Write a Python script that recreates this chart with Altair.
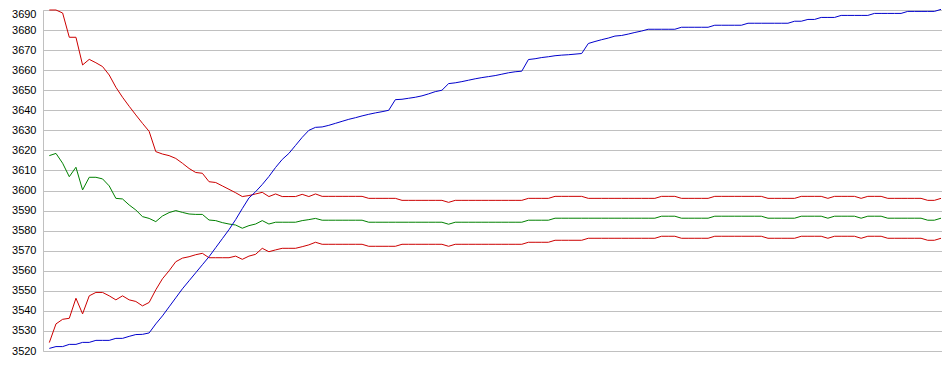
import altair as alt
import pandas as pd

def rep(v, n):
    return [v] * n

blue = [3521.3, 3522.2, 3522.2, 3523.3, 3523.3, 3524.3, 3524.3, 3525.3, 3525.3, 3525.3,
        3526.3, 3526.3, 3527.3, 3528.2, 3528.3, 3529.0, 3533.5, 3537.5, 3542.0, 3546.5,
        3551.0, 3555.0, 3559.0, 3563.0, 3567.0, 3571.5, 3576.0, 3580.5, 3585.5, 3591.0,
        3596.3, 3599.4, 3603.0, 3607.0, 3611.5, 3615.5, 3618.5, 3622.5, 3626.5, 3630.0,
        3631.5, 3631.7, 3632.5, 3633.5, 3634.5, 3635.5, 3636.3, 3637.2, 3638.0, 3638.7,
        3639.3, 3640.0, 3645.3, 3645.5, 3646.0, 3646.5, 3647.2, 3648.2, 3649.3, 3650.0,
        3653.3, 3653.7, 3654.3, 3655.0, 3655.7, 3656.3, 3656.8, 3657.3, 3658.0, 3658.7,
        3659.2, 3659.5, 3665.3, 3665.7, 3666.3, 3666.7, 3667.2, 3667.5, 3667.7, 3668.0,
        3668.3, 3673.3, 3674.3, 3675.2, 3676.0, 3677.0, 3677.3, 3678.0, 3678.8, 3679.5] \
    + rep(3680.4, 5) + rep(3681.4, 5) + rep(3682.4, 5) + rep(3683.4, 7) + rep(3684.4, 2) \
    + rep(3685.3, 2) + rep(3686.3, 3) + rep(3687.3, 5) + rep(3688.3, 5) + rep(3689.3, 5) + [3690.3]

upper = [3690.0, 3690.0, 3688.5, 3676.4, 3676.4, 3662.6, 3665.4, 3663.7, 3661.8, 3657.6,
         3651.5, 3646.5, 3642.0, 3637.7, 3633.5, 3629.5, 3619.4, 3618.2, 3617.4, 3616.0,
         3613.6, 3611.0, 3609.0, 3608.6, 3604.4, 3604.0, 3602.3, 3600.6, 3598.9, 3597.0,
         3597.5, 3598.3, 3599.1, 3597.0, 3598.3, 3597.0, 3597.0, 3597.0, 3598.1, 3597.0,
         3598.3] \
    + rep(3597.1, 7) + rep(3596.1, 5) + rep(3595.1, 7) + [3594.1] + rep(3595.1, 11) \
    + rep(3596.1, 4) + rep(3597.1, 5) + rep(3596.1, 11) + rep(3597.1, 3) + rep(3596.1, 5) \
    + rep(3597.1, 8) + rep(3596.1, 5) + rep(3597.1, 4) + [3596.1] + rep(3597.1, 4) \
    + [3596.1] + rep(3597.1, 3) + rep(3596.1, 6) + rep(3595.1, 2) + [3596.1]

middle = [3617.4, 3618.5, 3613.6, 3606.9, 3611.6, 3600.3, 3606.6, 3606.6, 3605.8, 3602.3,
          3596.1, 3595.8, 3592.8, 3590.3, 3587.0, 3586.1, 3584.5, 3587.3, 3589.0, 3590.0,
          3589.1, 3588.3, 3588.1, 3588.1, 3585.3, 3585.0, 3584.0, 3583.3, 3582.8, 3581.2,
          3582.5, 3583.3, 3585.0, 3583.3, 3584.2, 3584.2, 3584.2, 3584.2, 3585.0, 3585.5,
          3586.1] \
    + rep(3585.2, 7) + rep(3584.2, 12) + [3583.2] + rep(3584.2, 11) + rep(3585.2, 4) \
    + rep(3586.2, 16) + rep(3587.2, 3) + rep(3586.2, 5) + rep(3587.2, 8) + rep(3586.2, 5) \
    + rep(3587.2, 4) + [3586.2] + rep(3587.2, 4) + [3586.2] + rep(3587.2, 3) \
    + rep(3586.2, 6) + rep(3585.2, 2) + [3586.2]

lower = [3524.2, 3533.5, 3535.8, 3536.3, 3546.3, 3538.5, 3547.5, 3549.2, 3549.2, 3547.5,
         3545.5, 3547.5, 3545.5, 3544.7, 3542.5, 3544.2, 3550.5, 3556.0, 3560.0, 3564.5,
         3566.3, 3567.0, 3568.0, 3568.7, 3566.5, 3566.5, 3566.5, 3566.5, 3567.3, 3565.7,
         3567.3, 3568.2, 3571.2, 3569.5, 3570.4, 3571.2, 3571.2, 3571.2, 3572.0, 3572.9,
         3574.2] \
    + rep(3573.2, 7) + rep(3572.2, 5) + rep(3573.2, 7) + [3572.2] + rep(3573.2, 11) \
    + rep(3574.2, 4) + rep(3575.2, 5) + rep(3576.2, 11) + rep(3577.2, 3) + rep(3576.2, 5) \
    + rep(3577.2, 8) + rep(3576.2, 5) + rep(3577.2, 4) + [3576.2] + rep(3577.2, 4) \
    + [3576.2] + rep(3577.2, 3) + rep(3576.2, 6) + rep(3575.2, 2) + [3576.2]

series_names = ["upper", "middle", "lower", "blue"]
series_colors = ["#cc0000", "#008000", "#cc0000", "#0000cc"]
y_ticks = list(range(3520, 3691, 10))

rows = []
for name, vals in zip(series_names, [upper, middle, lower, blue]):
    for i, v in enumerate(vals):
        rows.append({"idx": i, "value": v, "series": name})
df = pd.DataFrame(rows)

chart = alt.Chart(df).mark_line(strokeWidth=1, interpolate="linear").encode(
    x=alt.X("idx:Q", scale=alt.Scale(domain=[-0.95, 134.15], nice=False, zero=False), axis=None),
    y=alt.Y("value:Q",
            scale=alt.Scale(domain=[3520, 3690], nice=False, zero=False),
            axis=alt.Axis(values=y_ticks, title=None, grid=True, gridColor="#c0c0c0",
                          gridOpacity=1, gridWidth=1, domain=True, domainColor="#c0c0c0",
                          domainWidth=1, ticks=False, tickSize=0, labelPadding=7,
                          labelFont="Liberation Sans", labelFontSize=11,
                          labelColor="#000000", format="d",
                          labelOffset={"condition": {"test": "datum.value == 3690", "value": 4},
                                       "value": 0})),
    color=alt.Color("series:N", scale=alt.Scale(domain=series_names, range=series_colors),
                    legend=None),
    order=alt.Order("idx:Q"),
).properties(
    width=899, height=341,
    autosize=alt.AutoSizeParams(type="none"),
    padding={"left": 35, "top": 2, "right": 0, "bottom": 10},
).configure_view(strokeWidth=0).configure(background="white")

chart.save("out.html", embed_options={"renderer": "svg", "actions": False})
